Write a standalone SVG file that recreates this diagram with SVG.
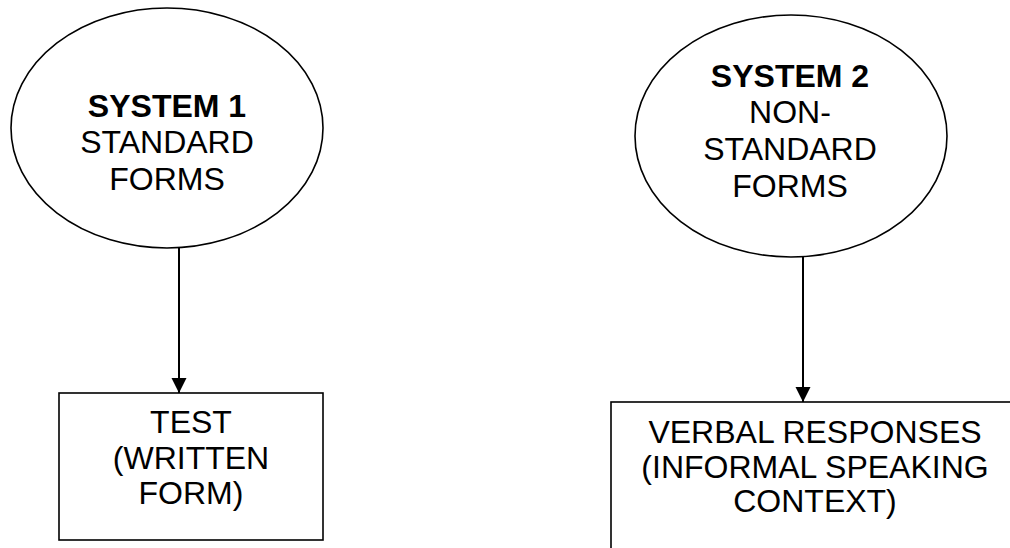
<svg xmlns="http://www.w3.org/2000/svg" width="1010" height="548" viewBox="0 0 1010 548">
<style>
.shape{fill:#fff;stroke:#000;stroke-width:1.6}
.t{font-family:"Liberation Sans",Arial,sans-serif;font-size:32px;fill:#000;text-anchor:middle}
.b{font-weight:bold}
.conn{stroke:#000;stroke-width:2}
</style>
<defs>
<marker id="arr" markerUnits="userSpaceOnUse" markerWidth="16" markerHeight="16" refX="15" refY="7.5" orient="auto">
<path d="M0,0 L15,7.5 L0,15 Z" fill="#000"/>
</marker>
</defs>
<rect width="1010" height="548" fill="#fff"/>
<g id="system1">
<ellipse class="shape" cx="167" cy="128" rx="156" ry="120"/>
<text class="t b" x="167" y="117">SYSTEM 1</text>
<text class="t" x="167" y="153">STANDARD</text>
<text class="t" x="167" y="190">FORMS</text>
</g>
<g id="system2">
<ellipse class="shape" cx="791" cy="136" rx="156" ry="121"/>
<text class="t b" x="790" y="87">SYSTEM 2</text>
<text class="t" x="790" y="123">NON-</text>
<text class="t" x="790" y="160">STANDARD</text>
<text class="t" x="790" y="197">FORMS</text>
</g>
<g id="test">
<rect class="shape" x="59" y="393" width="264" height="147"/>
<text class="t" x="191" y="433">TEST</text>
<text class="t" x="191" y="469">(WRITTEN</text>
<text class="t" x="191" y="504">FORM)</text>
</g>
<g id="verbal">
<rect class="shape" x="611" y="402" width="410" height="160"/>
<text class="t" x="815" y="443">VERBAL RESPONSES</text>
<text class="t" x="815" y="478">(INFORMAL SPEAKING</text>
<text class="t" x="815" y="512">CONTEXT)</text>
</g>
<g id="connectors">
<line class="conn" x1="179" y1="248" x2="179" y2="393" marker-end="url(#arr)"/>
<line class="conn" x1="803" y1="257" x2="803" y2="402" marker-end="url(#arr)"/>
</g>
</svg>
